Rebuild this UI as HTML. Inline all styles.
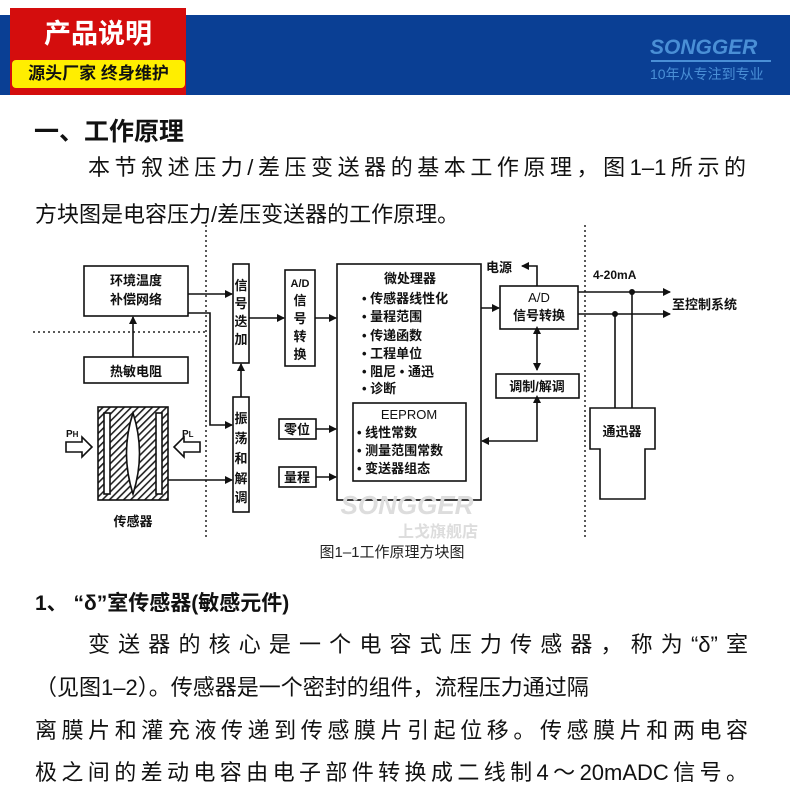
<!DOCTYPE html>
<html><head><meta charset="utf-8"><style>
body{margin:0;width:790px;height:800px;background:#fff;position:relative;overflow:hidden;font-family:"Liberation Sans","Noto Sans CJK SC",sans-serif;color:#111}
.a{position:absolute;white-space:nowrap}
.j{position:absolute;text-align:justify;text-align-last:justify;white-space:nowrap;font-size:22px;line-height:26px}
</style></head><body>
<div class="a" style="left:0;top:15px;width:790px;height:80px;background:#0a3f94"></div>
<div class="a" style="left:10px;top:8px;width:176px;height:87px;background:#d40d0d"></div>
<div class="a" style="left:10px;top:14px;width:176px;text-align:center;color:#fff;font-size:27px;font-weight:bold;line-height:40px">产品说明</div>
<div class="a" style="left:12px;top:60px;width:173px;height:28px;background:#ffee00;border-radius:4px;text-align:center;font-size:17px;font-weight:bold;line-height:28px;color:#111">源头厂家 终身维护</div>
<div class="a" style="left:650px;top:36px;color:#4a8fd6;font-size:21px;font-weight:bold;font-style:italic;letter-spacing:0px">SONGGER</div>
<div class="a" style="left:651px;top:60px;width:120px;height:2px;background:#4a8fd6"></div>
<div class="a" style="left:650px;top:64px;color:#4a8fd6;font-size:14px">10年从专注到专业</div>

<div class="a" style="left:34px;top:112px;font-size:25px;font-weight:bold">一、工作原理</div>
<div class="j" style="left:88px;top:155px;width:658px">本节叙述压力/差压变送器的基本工作原理，图1–1所示的</div>
<div class="a" style="left:35px;top:197px;font-size:22px">方块图是电容压力/差压变送器的工作原理。</div>

<svg class="a" style="left:0;top:0" width="790" height="800" font-family="Liberation Sans,Noto Sans CJK SC,sans-serif" font-weight="bold" font-size="13">
<defs><marker id="ar" markerWidth="8" markerHeight="8" refX="7" refY="4" orient="auto" markerUnits="userSpaceOnUse"><path d="M0,0 L8,4 L0,8z" fill="#111"/></marker>
<marker id="as" markerWidth="8" markerHeight="8" refX="1" refY="4" orient="auto-start-reverse" markerUnits="userSpaceOnUse"><path d="M0,0 L8,4 L0,8z" fill="#111"/></marker>
<pattern id="h" width="5" height="5" patternUnits="userSpaceOnUse" patternTransform="rotate(45)"><rect width="5" height="5" fill="#fff"/><rect width="1.6" height="5" fill="#222"/></pattern></defs>
<g stroke="#222" stroke-width="1.5" stroke-dasharray="2,3" fill="none">
<line x1="206" y1="225" x2="206" y2="540"/><line x1="33" y1="332" x2="206" y2="332"/><line x1="585" y1="225" x2="585" y2="540"/></g>
<g stroke="#111" stroke-width="1.6" fill="#fff">
<rect x="84" y="266" width="104" height="50"/><rect x="84" y="357" width="104" height="26"/>
<rect x="233" y="264" width="16" height="99"/><rect x="233" y="397" width="16" height="115"/>
<rect x="285" y="270" width="30" height="96"/><rect x="279" y="419" width="37" height="20"/><rect x="279" y="467" width="37" height="20"/>
<rect x="337" y="264" width="144" height="236"/><rect x="353" y="403" width="113" height="78"/>
<rect x="500" y="286" width="78" height="43"/><rect x="496" y="374" width="83" height="24"/>
<path d="M590,408 H655 V449 H645 V499 H600 V449 H590 Z"/>
<rect x="98" y="407" width="70" height="93" fill="url(#h)"/>
<rect x="104" y="413" width="6" height="81"/><rect x="156" y="413" width="6" height="81"/>
<path d="M133,413 Q146,453 133,494 Q120,453 133,413Z"/>
<path d="M66,442 H82 V437 L92,447 L82,457 V452 H66Z"/><path d="M200,442 H184 V437 L174,447 L184,457 V452 H200Z"/>
</g>
<g stroke="#111" stroke-width="1.6" fill="none" marker-end="url(#ar)">
<line x1="133" y1="357" x2="133" y2="317"/><line x1="188" y1="294" x2="232" y2="294"/>
<polyline points="188,313 210,313 210,425 232,425"/><line x1="168" y1="480" x2="232" y2="480"/>
<line x1="241" y1="397" x2="241" y2="364"/><line x1="249" y1="318" x2="284" y2="318"/><line x1="315" y1="318" x2="336" y2="318"/>
<line x1="316" y1="429" x2="336" y2="429"/><line x1="316" y1="477" x2="336" y2="477"/><line x1="481" y1="308" x2="499" y2="308"/>
<polyline points="537,286 537,266 522,266"/>
<line x1="537" y1="333" x2="537" y2="370" marker-start="url(#as)"/>
<polyline points="537,402 537,441 482,441" marker-start="url(#as)"/>
<line x1="578" y1="292" x2="670" y2="292"/><line x1="578" y1="314" x2="670" y2="314"/>
</g>
<g stroke="#111" stroke-width="1.6"><line x1="632" y1="292" x2="632" y2="408"/><line x1="615" y1="314" x2="615" y2="408"/></g>
<circle cx="632" cy="292" r="3" fill="#111"/><circle cx="615" cy="314" r="3" fill="#111"/>
<g fill="#111">
<text x="136" y="285" text-anchor="middle">环境温度</text><text x="136" y="304" text-anchor="middle">补偿网络</text>
<text x="136" y="376" text-anchor="middle">热敏电阻</text>
<text x="241" y="290" text-anchor="middle">信</text><text x="241" y="308" text-anchor="middle">号</text><text x="241" y="326" text-anchor="middle">迭</text><text x="241" y="344" text-anchor="middle">加</text>
<text x="241" y="423" text-anchor="middle">振</text><text x="241" y="443" text-anchor="middle">荡</text><text x="241" y="463" text-anchor="middle">和</text><text x="241" y="483" text-anchor="middle">解</text><text x="241" y="502" text-anchor="middle">调</text>
<text x="300" y="287" text-anchor="middle" font-size="11">A/D</text><text x="300" y="305" text-anchor="middle">信</text><text x="300" y="323" text-anchor="middle">号</text><text x="300" y="341" text-anchor="middle">转</text><text x="300" y="359" text-anchor="middle">换</text>
<text x="297" y="434" text-anchor="middle">零位</text><text x="297" y="482" text-anchor="middle">量程</text>
<text x="410" y="283" text-anchor="middle">微处理器</text>
<text x="362" y="303">• 传感器线性化</text><text x="362" y="321">• 量程范围</text><text x="362" y="340">• 传递函数</text><text x="362" y="358">• 工程单位</text><text x="362" y="376">• 阻尼 • 通迅</text><text x="362" y="393">• 诊断</text>
<text x="409" y="419" text-anchor="middle" font-weight="normal">EEPROM</text>
<text x="357" y="437">• 线性常数</text><text x="357" y="455">• 测量范围常数</text><text x="357" y="473">• 变送器组态</text>
<text x="539" y="302" text-anchor="middle" font-weight="normal">A/D</text><text x="539" y="320" text-anchor="middle">信号转换</text>
<text x="486" y="272">电源</text><text x="537" y="391" text-anchor="middle">调制/解调</text>
<text x="593" y="279" font-size="12">4-20mA</text><text x="672" y="309">至控制系统</text>
<text x="622" y="436" text-anchor="middle">通迅器</text>
<text x="133" y="526" text-anchor="middle">传感器</text>
<text x="66" y="437" font-size="10">P<tspan font-size="8">H</tspan></text><text x="182" y="437" font-size="10">P<tspan font-size="8">L</tspan></text>
</g>
<text x="407" y="514" text-anchor="middle" fill="#ddd" font-size="26" font-style="italic">SONGGER</text>
<text x="438" y="537" text-anchor="middle" fill="#ddd" font-size="16">上戈旗舰店</text>
<text x="392" y="557" text-anchor="middle" fill="#222" font-weight="normal" font-size="15">图1–1工作原理方块图</text>
</svg>

<div class="a" style="left:35px;top:587px;font-size:21px;font-weight:bold">1、 “δ”室传感器(敏感元件)</div>
<div class="j" style="left:88px;top:632px;width:660px">变送器的核心是一个电容式压力传感器，称为“δ”室</div>
<div class="a" style="left:35px;top:675px;font-size:22px;line-height:26px">（见图1–2）。传感器是一个密封的组件，流程压力通过隔</div>
<div class="j" style="left:35px;top:718px;width:713px">离膜片和灌充液传递到传感膜片引起位移。传感膜片和两电容</div>
<div class="j" style="left:35px;top:760px;width:713px">极之间的差动电容由电子部件转换成二线制4～20mADC信号。</div>
</body></html>
